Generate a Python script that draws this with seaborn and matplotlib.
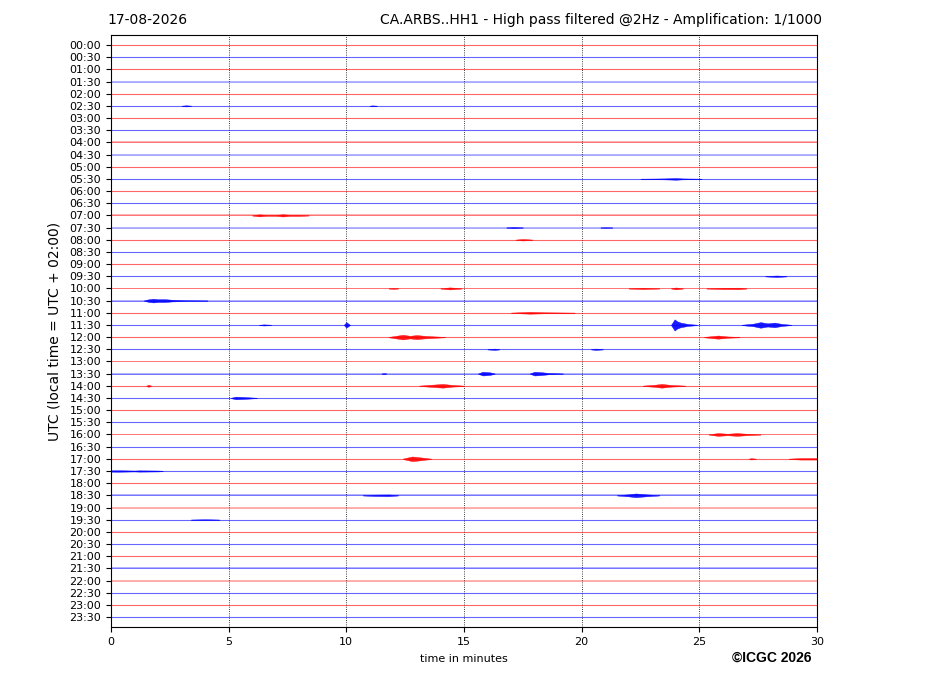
import seaborn as sns
import matplotlib.pyplot as plt
import numpy as np
import pandas as pd

# helicorder rows (30 min each), top to bottom
row_labels = ["00:00", "00:30", "01:00", "01:30", "02:00", "02:30", "03:00", "03:30",
              "04:00", "04:30", "05:00", "05:30", "06:00", "06:30", "07:00", "07:30",
              "08:00", "08:30", "09:00", "09:30", "10:00", "10:30", "11:00", "11:30",
              "12:00", "12:30", "13:00", "13:30", "14:00", "14:30", "15:00", "15:30",
              "16:00", "16:30", "17:00", "17:30", "18:00", "18:30", "19:00", "19:30",
              "20:00", "20:30", "21:00", "21:30", "22:00", "22:30", "23:00", "23:30"]
row_colors = ["red", "blue"] * 24
# rows with a higher background noise level
noisy_rows = ["01:30", "04:00", "04:30", "07:00", "07:30", "10:00", "10:30", "13:00",
              "13:30", "16:00", "18:30", "19:00", "21:30", "22:00"]
minute_ticks = [0, 5, 10, 15, 20, 25, 30]

# events: row, times (minutes) and envelope half-amplitude (counts / 1000)
event_rows = ["02:30", "02:30", "05:30", "07:00", "07:30", "07:30", "08:00", "09:30",
              "10:00", "10:00", "10:00", "10:00", "10:00", "10:30", "11:00", "11:30",
              "11:30", "11:30", "11:30", "12:00", "12:00", "12:30", "12:30", "13:30",
              "13:30", "13:30", "14:00", "14:00", "14:00", "14:30", "16:00", "17:00",
              "17:00", "17:00", "17:30", "18:30", "18:30", "19:30"]
event_times = [
    [3.0, 3.2, 3.4], [11.0, 11.1, 11.3],
    [22.5, 23.5, 24.0, 24.3, 25.1],
    [6.0, 6.3, 6.6, 7.0, 7.3, 7.6, 8.0, 8.4],
    [16.8, 17.1, 17.5], [20.8, 21.0, 21.3],
    [17.2, 17.5, 17.9],
    [27.8, 28.3, 28.7],
    [11.8, 12.0, 12.2], [14.0, 14.4, 14.9], [22.0, 22.6, 23.3], [23.8, 24.0, 24.3],
    [25.3, 26.0, 26.7, 27.0],
    [1.4, 1.6, 1.8, 2.0, 2.3, 2.6, 3.2, 4.1],
    [17.0, 17.8, 18.5, 19.7],
    [6.3, 6.5, 6.8], [9.9, 10.0, 10.15],
    [23.8, 23.95, 24.05, 24.2, 24.5, 24.9],
    [26.8, 27.3, 27.6, 27.9, 28.2, 28.5, 28.9],
    [11.8, 12.2, 12.4, 12.7, 13.0, 13.3, 13.8, 14.2], [25.2, 25.8, 26.2, 26.7],
    [16.0, 16.3, 16.5], [20.4, 20.6, 20.9],
    [11.5, 11.6, 11.7], [15.6, 15.8, 16.1, 16.3], [17.8, 18.0, 18.3, 18.6, 19.2],
    [1.5, 1.6, 1.7], [13.1, 13.6, 14.1, 14.5, 15.0], [22.6, 23.1, 23.4, 23.8, 24.4],
    [5.1, 5.3, 5.6, 6.2],
    [25.4, 25.8, 26.2, 26.6, 27.0, 27.6],
    [12.4, 12.8, 13.1, 13.6], [27.1, 27.2, 27.4], [28.8, 29.3, 30.0],
    [0.0, 0.3, 1.0, 1.2, 2.0, 2.2],
    [10.7, 11.2, 11.8, 12.2], [21.5, 22.0, 22.3, 22.7, 23.3],
    [3.4, 4.0, 4.6],
]
event_amps = [
    [0.2, 0.6, 0.2], [0.2, 0.5, 0.2],
    [0.2, 0.5, 0.9, 0.5, 0.2],
    [0.2, 1.1, 0.5, 0.5, 1.2, 0.6, 0.6, 0.2],
    [0.2, 0.7, 0.2], [0.2, 0.4, 0.2],
    [0.2, 0.8, 0.2],
    [0.2, 0.8, 0.2],
    [0.2, 0.5, 0.2], [0.2, 1.1, 0.2], [0.2, 0.7, 0.2], [0.2, 1.0, 0.2],
    [0.2, 0.7, 0.8, 0.2],
    [0.2, 1.4, 2.0, 1.5, 1.5, 0.9, 0.4, 0.2],
    [0.2, 1.0, 0.5, 0.2],
    [0.2, 0.6, 0.2], [0.2, 3.0, 0.2],
    [0.2, 6.0, 4.0, 2.5, 1.1, 0.2],
    [0.2, 1.4, 3.0, 1.7, 2.5, 1.1, 0.2],
    [0.2, 1.7, 2.5, 1.4, 2.2, 1.4, 0.7, 0.2], [0.2, 1.7, 0.7, 0.2],
    [0.2, 0.7, 0.2], [0.2, 0.7, 0.2],
    [0.2, 0.5, 0.2], [0.2, 2.0, 1.4, 0.2], [0.2, 2.0, 1.5, 0.7, 0.2],
    [0.2, 1.1, 0.2], [0.2, 1.1, 2.0, 0.9, 0.2], [0.2, 1.1, 2.0, 0.9, 0.2],
    [0.2, 1.4, 1.1, 0.2],
    [0.2, 1.5, 0.8, 1.5, 0.8, 0.2],
    [0.2, 2.5, 1.7, 0.2], [0.2, 0.7, 0.2], [0.2, 0.8, 0.8],
    [0.7, 0.8, 0.5, 0.7, 0.5, 0.2],
    [0.2, 0.7, 0.9, 0.2], [0.2, 1.1, 2.0, 1.1, 0.2],
    [0.2, 0.5, 0.2],
]

amp_scale = 1 / 13.0  # amplitude units -> row spacing

sns.set_style("ticks")
plt.rcParams['font.family'] = ['DejaVu Sans']
plt.rcParams.update({"text.color": "black", "axes.labelcolor": "black",
                     "xtick.color": "black", "ytick.color": "black"})

fig = plt.figure(figsize=(9.27, 6.96), dpi=100)
ax = fig.add_axes([0.1197, 0.0991, 0.7616, 0.8506])

base = pd.DataFrame({
    "minute": [0, 30] * len(row_labels),
    "row": np.repeat(np.arange(len(row_labels)), 2),
    "color": np.repeat(row_colors, 2),
})
quiet = base[~base["row"].isin([row_labels.index(r) for r in noisy_rows])]
sns.lineplot(data=quiet, x="minute", y="row", hue="color", units="row",
             estimator=None, palette={"red": "red", "blue": "blue"},
             linewidth=0.8, alpha=0.6, legend=False, ax=ax)

# noisier rows: wider, paler trace
for r in noisy_rows:
    i = row_labels.index(r)
    ax.fill_between([0, 30], i - 0.075, i + 0.075, color=row_colors[i],
                    alpha=0.3, linewidth=0)
    ax.plot([0, 30], [i, i], color=row_colors[i], lw=0.6, alpha=0.4)

for r, ts, amps in zip(event_rows, event_times, event_amps):
    i = row_labels.index(r)
    a = np.array(amps) * amp_scale
    ax.fill_between(ts, i - a, i + a, color=row_colors[i], alpha=0.9,
                    linewidth=0.3)

ax.set_xlim(0, 30)
ax.set_ylim(len(row_labels) - 1 + 0.82, -0.82)
ax.set_xticks(minute_ticks)
ax.set_yticks(range(len(row_labels)))
ax.set_yticklabels(row_labels)
ax.tick_params(axis="both", labelsize=8, direction="out", length=3.5, width=0.8,
               color="black", labelcolor="black")
ax.grid(axis="x", linestyle=":", color="black", linewidth=0.6)
ax.grid(axis="y", visible=False)
for s in ax.spines.values():
    s.set_color("black")
    s.set_linewidth(0.8)

ax.set_xlabel("time in minutes", fontsize=8, labelpad=5)
ax.set_ylabel("UTC (local time = UTC + 02:00)", fontsize=10, labelpad=6)

fig.text(107 / 927, 0.971, "17-08-2026", fontsize=10, ha="left", va="center")
fig.text(822 / 927, 0.971,
         "CA.ARBS..HH1 - High pass filtered @2Hz - Amplification: 1/1000",
         fontsize=10, ha="right", va="center")
fig.text(811 / 927, 1 - 658 / 696, "©ICGC 2026", fontsize=10, fontweight="bold",
         family=["Liberation Sans", "DejaVu Sans"], ha="right", va="center")

fig.savefig("out.png", dpi=100)
